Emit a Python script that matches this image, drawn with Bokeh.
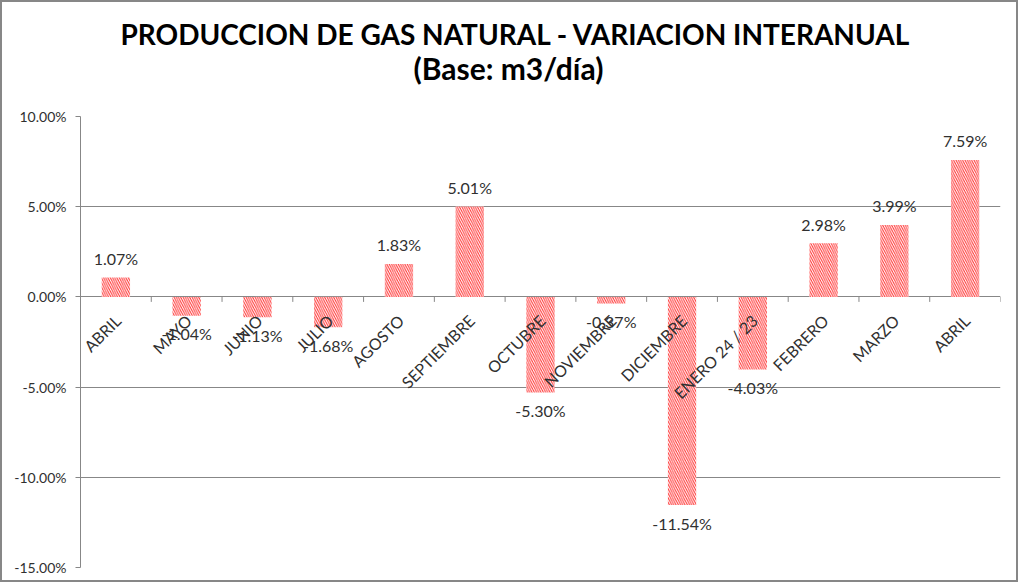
import math
from bokeh.plotting import figure
from bokeh.models import Range1d, Title, PrintfTickFormatter, FixedTicker, ColumnDataSource
from bokeh.core.properties import value
from bokeh.embed import file_html
from bokeh.resources import INLINE

categories = ["ABRIL", "MAYO", "JUNIO", "JULIO", "AGOSTO", "SEPTIEMBRE", "OCTUBRE",
              "NOVIEMBRE", "DICIEMBRE", "ENERO 24 / 23", "FEBRERO", "MARZO", "ABRIL"]
variation = [1.07, -1.04, -1.13, -1.68, 1.83, 5.01, -5.30, -0.37, -11.54, -4.03, 2.98, 3.99, 7.59]
y_ticks = [-15, -10, -5, 0, 5, 10]
title_lines = ["PRODUCCION DE GAS NATURAL - VARIACION INTERANUAL", "(Base: m3/día)"]

FONT = "Lato"
GREY = "#878787"
TXT = "#303030"

n = len(categories)
xs = list(range(n))
labels = [f"{v:.2f}%" for v in variation]

src = ColumnDataSource(dict(x=xs, v=variation, cat=categories, lab=labels))
pos = ColumnDataSource(dict(x=[x for x, v in zip(xs, variation) if v >= 0],
                            v=[v for v in variation if v >= 0],
                            lab=[l for l, v in zip(labels, variation) if v >= 0]))
neg = ColumnDataSource(dict(x=[x for x, v in zip(xs, variation) if v < 0],
                            v=[v for v in variation if v < 0],
                            lab=[l for l, v in zip(labels, variation) if v < 0]))

W, H = 1018, 582
p = figure(width=W, height=H, output_backend="svg", toolbar_location=None, title=None,
           x_range=Range1d(-0.5, n - 0.5), y_range=Range1d(y_ticks[0], y_ticks[-1]),
           x_axis_location=None,
           min_border_left=78, min_border_right=20, min_border_top=114, min_border_bottom=17)
p.styles = {"border": f"2px solid {GREY}"}
p.outline_line_color = None
p.background_fill_color = "white"
p.border_fill_color = "white"

p.xgrid.grid_line_color = None
p.ygrid.ticker = FixedTicker(ticks=y_ticks)
p.ygrid.grid_line_color = GREY
p.ygrid.grid_line_width = 1

ax = p.yaxis[0]
ax.ticker = FixedTicker(ticks=y_ticks)
ax.formatter = PrintfTickFormatter(format="%.2f%%")
ax.axis_line_color = GREY
ax.major_tick_line_color = GREY
ax.major_tick_out = 5
ax.major_tick_in = 0
ax.minor_tick_line_color = None
ax.major_label_text_font = FONT
ax.major_label_text_font_size = "14px"
ax.major_label_text_color = TXT
ax.major_label_standoff = 9

# bars
p.vbar(x="x", top="v", bottom=0, width=0.4, source=src,
       fill_color="white", line_color=None,
       hatch_pattern="\\", hatch_color="#ff3030", hatch_scale=4.5, hatch_weight=1.0)

# category axis tick marks at zero line (category boundaries)
bounds = [i - 0.5 for i in range(n + 1)]
tick_len = 5 * (y_ticks[-1] - y_ticks[0]) / 451.0
p.segment(x0=bounds, y0=[0] * len(bounds), x1=bounds, y1=[-tick_len] * len(bounds),
          line_color=GREY, line_width=1)

# category labels (rotated, next to the zero axis)
p.text(x="x", y=0, text="cat", source=src, angle=math.pi / 4,
       text_align="right", text_baseline="top", x_offset=-5, y_offset=14,
       text_font=value(FONT), text_font_size="16px", text_color=TXT)

# data labels
p.text(x="x", y="v", text="lab", source=pos, text_align="center", text_baseline="alphabetic",
       y_offset=-19, text_font=value(FONT), text_font_size="16px", text_color=TXT)
p.text(x="x", y="v", text="lab", source=neg, text_align="center", text_baseline="alphabetic",
       y_offset=18, text_font=value(FONT), text_font_size="16px", text_color=TXT)

# title (two lines); a blank spacer title keeps the gap above the plot area
p.add_layout(Title(text=" ", align="left", standoff=17, text_font=FONT,
                   text_font_size="10px"), "above")
p.add_layout(Title(text=title_lines[1], align="left", offset=333, standoff=0,
                   text_font=FONT, text_font_style="bold", text_font_size="30px",
                   text_color="black"), "above")
p.add_layout(Title(text=title_lines[0], align="left", offset=40, standoff=-6,
                   text_font=FONT, text_font_style="bold", text_font_size="28px",
                   text_color="black"), "above")

open("out.html", "w").write(file_html(p, INLINE))
